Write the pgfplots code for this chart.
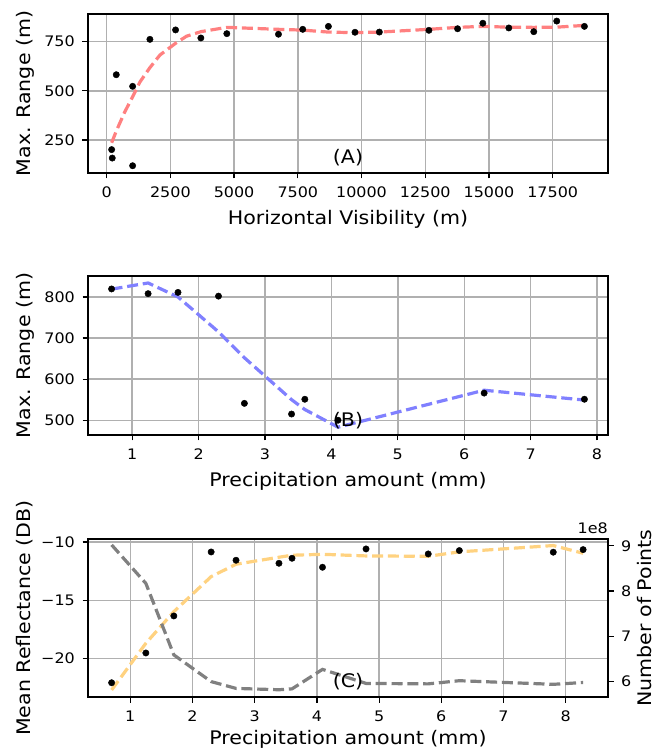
\documentclass[border=0pt]{standalone}
\usepackage{fontspec}
\setmainfont{DejaVu Sans}[FakeStretch=1.1]
\usepackage{pgfplots}
\pgfplotsset{compat=1.18}
\definecolor{gridgray}{HTML}{B0B0B0}
\definecolor{lred}{HTML}{FF8080}
\definecolor{lblue}{HTML}{8080FF}
\definecolor{lorange}{HTML}{FFD280}
\definecolor{lgray}{HTML}{808080}
\tikzset{panlab/.style={font=\fontsize{18.7}{22}\selectfont, anchor=center, inner sep=0pt}}
\pgfplotsset{
  myaxis/.style={
    scale only axis, width=520pt,
    axis line style={line width=1.2pt, black},
    every tick/.style={line width=1.2pt, black},
    major tick length=5.5pt,
    tick align=outside,
    tick pos=left,
    grid=major,
    major grid style={line width=1.4pt, gridgray},
    tick label style={font=\fontsize{14.5}{16}\selectfont, inner sep=0pt},
    xticklabel shift=8.5pt,
    yticklabel shift=7.5pt,
    scaled ticks=false,
    /pgf/number format/assume math mode=true,
    /pgf/number format/1000 sep={},
    every axis x label/.style={at={(axis description cs:0.5,0)}, anchor=base, yshift=-52pt, font=\fontsize{18.7}{22}\selectfont},
    every axis y label/.style={at={(axis description cs:-0.1212,0.5)}, rotate=90, anchor=center, font=\fontsize{18.7}{22}\selectfont},
  },
  dline/.style={mark=none, line width=3.2pt, dash pattern=on 11pt off 4.8pt},
  dots/.style={only marks, mark=*, mark size=3.2pt, black},
}
\begin{document}
\begin{tikzpicture}
\path[use as bounding box] (0,0) rectangle (656pt,750pt);
% Panel A
\begin{axis}[myaxis, at={(88pt,577pt)}, anchor=south west, height=159pt,
  xmin=-732, xmax=19670, ymin=82, ymax=891,
  xtick={0,2500,5000,7500,10000,12500,15000,17500},
  xticklabels={0,2500,5000,7500,10000,12500,15000,17500},
  ytick={250,500,750},
  xlabel={Horizontal Visibility (m)}, ylabel={Max. Range (m)}]
\addplot[dline, lred] coordinates {
(196,236) (377,295) (700,390) (1019,470) (1305,545) (1697,618) (2089,682)
(2704,742) (3135,778) (3696,801) (4715,823) (6741,813) (7693,809) (8700,799)
(9743,796) (10699,799) (12643,813) (13768,823) (14759,828) (15778,824)
(16758,823) (17659,824) (18745,833)};
\addplot[dots] coordinates {
(196,201) (220,158) (377,582) (1019,119) (1019,523) (1697,762) (2704,810)
(3696,769) (4715,791) (6741,788) (7693,813) (8700,828) (9743,798) (10699,799)
(12643,808) (13768,816) (14759,844) (15778,820) (16758,801) (17659,855) (18745,828)};
\node[panlab] at (rel axis cs:0.5,0.094) {(A)};
\end{axis}
% Panel B
\begin{axis}[myaxis, at={(88pt,315pt)}, anchor=south west, height=159pt,
  xmin=0.335, xmax=8.165, ymin=464, ymax=851,
  xtick={1,2,3,4,5,6,7,8}, ytick={500,600,700,800},
  xlabel={Precipitation amount (mm)}, ylabel={Max. Range (m)}]
\addplot[dline, lblue] coordinates {
(0.69,819) (1.24,834) (1.69,800) (2.30,715) (2.69,652) (3.40,550) (3.60,526)
(4.10,483) (6.30,573) (7.81,549)};
\addplot[dots] coordinates {
(0.69,819.5) (1.24,808) (1.69,811) (2.30,802) (2.69,541) (3.40,515) (3.60,551)
(4.10,500) (6.30,566) (7.81,551)};
\node[panlab] at (rel axis cs:0.5,0.091) {(B)};
\end{axis}
% Panel C
\begin{axis}[myaxis, at={(88pt,53pt)}, anchor=south west, height=158pt,
  xmin=0.32, xmax=8.68, ymin=-23.28, ymax=-9.75,
  xtick={1,2,3,4,5,6,7,8}, ytick={-20,-15,-10}, yticklabels={−20,−15,−10},
  every axis x label/.style={at={(axis description cs:0.5,0)}, anchor=base, yshift=-47.5pt, font=\fontsize{18.7}{22}\selectfont},
  xlabel={Precipitation amount (mm)}, ylabel={Mean Reflectance (DB)}]
\addplot[dline, lorange] coordinates {
(0.70,-22.68) (1.25,-18.68) (1.70,-15.97) (2.30,-12.97) (2.70,-11.91) (3.39,-11.31)
(3.60,-11.14) (4.09,-11.06) (4.79,-11.20) (5.79,-11.23) (6.29,-10.85) (7.80,-10.31)
(8.28,-10.97)};
\addplot[dots] coordinates {
(0.70,-22.06) (1.25,-19.51) (1.70,-16.34) (2.30,-10.86) (2.70,-11.57) (3.39,-11.83)
(3.60,-11.40) (4.09,-12.17) (4.79,-10.60) (5.79,-11.03) (6.29,-10.74) (7.80,-10.88)
(8.28,-10.66)};
\end{axis}
\begin{axis}[myaxis, at={(88pt,53pt)}, anchor=south west, height=158pt,
  xmin=0.32, xmax=8.68, ymin=5.66, ymax=9.15,
  grid=none, axis x line=none, axis y line*=right, ytick pos=right,
  ytick={6,7,8,9},
  every axis y label/.style={at={(axis description cs:1.0705,0.5)}, rotate=90, anchor=center, font=\fontsize{18.7}{22}\selectfont},
  ylabel={Number of Points},
  after end axis/.code={\node[anchor=base east, inner sep=0pt, font=\fontsize{14.5}{16}\selectfont] at ([yshift=5pt]rel axis cs:1,1) {1e8};}]
\addplot[dline, lgray] coordinates {
(0.70,9.02) (1.25,8.17) (1.70,6.59) (2.30,6.00) (2.70,5.85) (3.39,5.82) (3.60,5.84)
(4.09,6.27) (4.79,5.96) (5.79,5.95) (6.29,6.02) (7.80,5.94) (8.28,5.98)};
\node[panlab] at (rel axis cs:0.5,0.097) {(C)};
\end{axis}
\end{tikzpicture}
\end{document}
